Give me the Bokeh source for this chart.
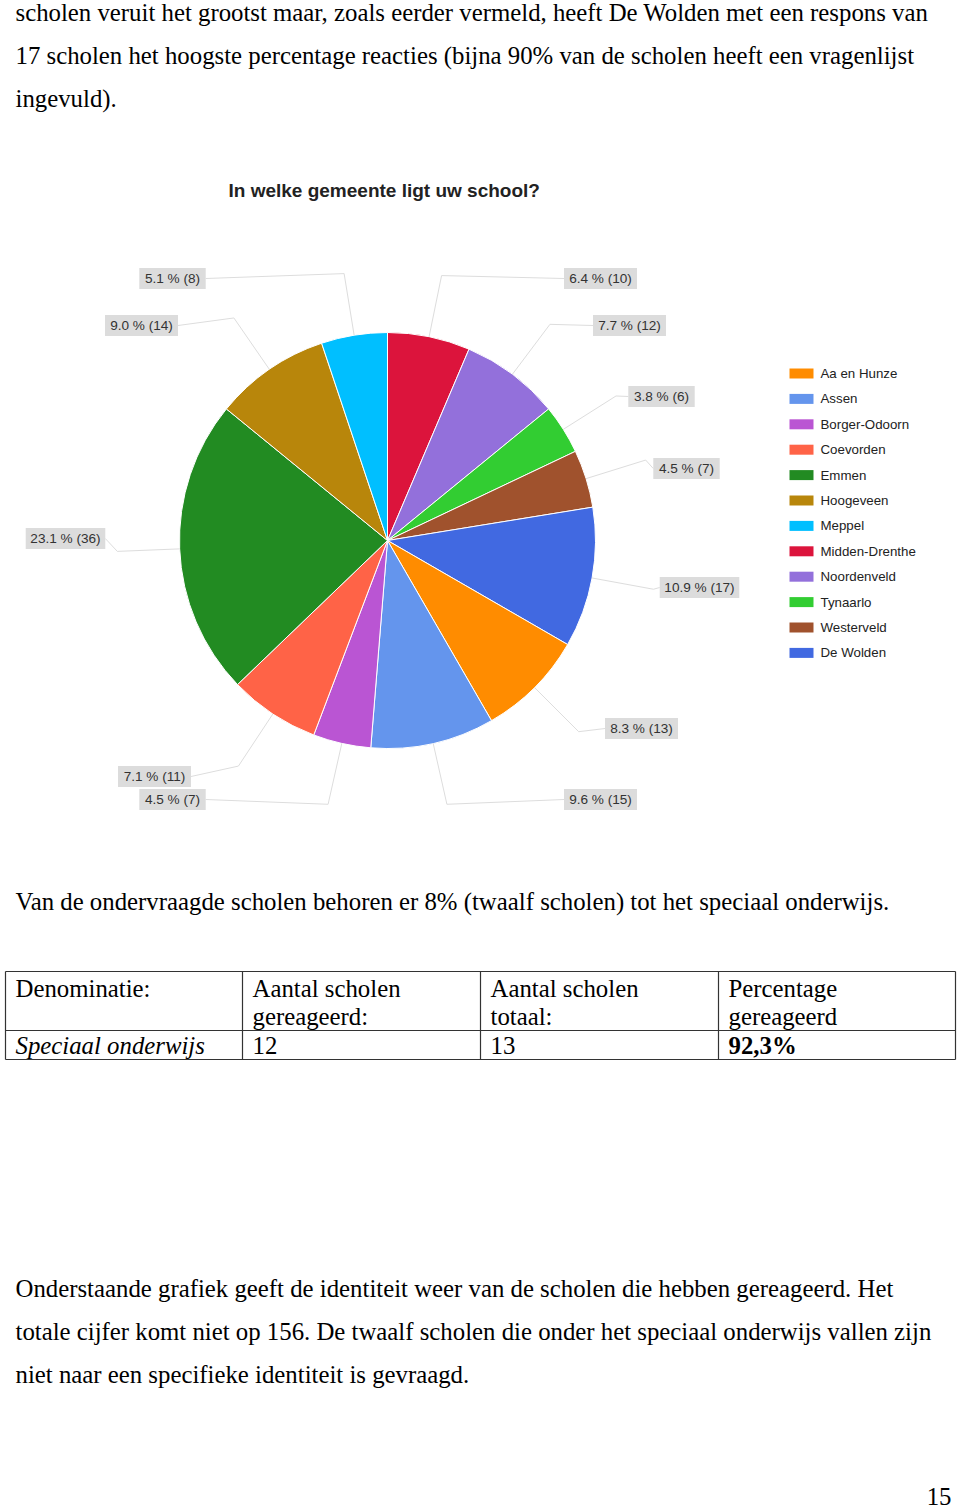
import math
from bokeh.plotting import figure
from bokeh.models import Range1d, ColumnDataSource
from bokeh.core.properties import value
from bokeh.embed import file_html
from bokeh.resources import INLINE

W, H = 960, 1511

# ---------------- data ----------------
municipalities = ["Midden-Drenthe", "Noordenveld", "Tynaarlo", "Westerveld", "De Wolden",
                  "Aa en Hunze", "Assen", "Borger-Odoorn", "Coevorden", "Emmen",
                  "Hoogeveen", "Meppel"]
counts = [10, 12, 6, 7, 17, 13, 15, 7, 11, 36, 14, 8]
legend_order = ["Aa en Hunze", "Assen", "Borger-Odoorn", "Coevorden", "Emmen", "Hoogeveen",
                "Meppel", "Midden-Drenthe", "Noordenveld", "Tynaarlo", "Westerveld", "De Wolden"]
colors = {
    "Aa en Hunze": "#FF8C00", "Assen": "#6495ED", "Borger-Odoorn": "#BA55D3",
    "Coevorden": "#FF6347", "Emmen": "#228B22", "Hoogeveen": "#B8860B",
    "Meppel": "#00BFFF", "Midden-Drenthe": "#DC143C", "Noordenveld": "#9370DB",
    "Tynaarlo": "#32CD32", "Westerveld": "#A0522D", "De Wolden": "#4169E1",
}
chart_title = "In welke gemeente ligt uw school?"

table_header_1 = ["Denominatie:", "Aantal scholen", "Aantal scholen", "Percentage"]
table_header_2 = ["", "gereageerd:", "totaal:", "gereageerd"]
table_row_label = "Speciaal onderwijs"
table_responded = 12
table_total = 13
table_pct = "92,3%"

para_top = [
    "scholen veruit het grootst maar, zoals eerder vermeld, heeft De Wolden met een respons van",
    "17 scholen het hoogste percentage reacties (bijna 90% van de scholen heeft een vragenlijst",
    "ingevuld).",
]
para_mid = ["Van de ondervraagde scholen behoren er 8% (twaalf scholen) tot het speciaal onderwijs."]
para_bottom = [
    "Onderstaande grafiek geeft de identiteit weer van de scholen die hebben gereageerd. Het",
    "totale cijfer komt niet op 156. De twaalf scholen die onder het speciaal onderwijs vallen zijn",
    "niet naar een specifieke identiteit is gevraagd.",
]
page_number = "15"

# ---------------- layout (screen px, y downwards) ----------------
CX, CY, R = 387, 540, 208
label_pos = [(600, 278), (629, 325), (661, 396), (686, 468), (699, 587), (641, 728),
             (600, 799), (172, 799), (154, 776), (65, 538), (141, 325), (172, 278)]


def sy(y):
    return H - y


p = figure(width=W, height=H, x_range=Range1d(0, W), y_range=Range1d(0, H),
           output_backend="svg", toolbar_location=None,
           x_axis_location=None, y_axis_location=None, min_border=0)
p.grid.visible = False
p.outline_line_color = None
p.background_fill_color = "white"
p.border_fill_color = "white"

SERIF = value("Liberation Serif")
SANS = value("Liberation Sans")
BODY = "24.8px"

# ---------------- pie ----------------
total = sum(counts)
starts, ends, mids = [], [], []
cum = 0
for c in counts:
    a0 = math.pi / 2 - 2 * math.pi * cum / total
    cum += c
    a1 = math.pi / 2 - 2 * math.pi * cum / total
    starts.append(a0)
    ends.append(a1)
    mids.append((a0 + a1) / 2)

pie_src = ColumnDataSource(dict(start=starts, end=ends,
                                color=[colors[m] for m in municipalities]))
p.wedge(x=CX, y=sy(CY), radius=R, start_angle="start", end_angle="end",
        direction="clock", fill_color="color", line_color="white", line_width=1,
        source=pie_src)

# labels
texts = [f"{100 * c / total:.1f} % ({c})" for c in counts]
lx = [pt[0] for pt in label_pos]
ly = [sy(pt[1]) for pt in label_pos]
bw = [6.6 * len(t) + 7 for t in texts]

xs, ys = [], []
for m, x, y, w in zip(mids, lx, ly, bw):
    ex, ey = CX + R * math.cos(m), sy(CY) + R * math.sin(m)
    bx, by = CX + 1.3 * R * math.cos(m), sy(CY) + 1.3 * R * math.sin(m)
    tx = x - w / 2 if x > CX else x + w / 2
    xs.append([ex, bx, tx])
    ys.append([ey, by, y])
p.multi_line(xs=xs, ys=ys, line_color="#dddddd", line_width=1)

p.rect(x=lx, y=ly, width=bw, height=21, fill_color="#dcdcdc", line_color=None)
p.text(x=lx, y=ly, text=texts, text_align="center", text_baseline="middle",
       text_font=SANS, text_font_size="13.6px", text_color="#333333")

# title
p.text(x=[228], y=[sy(190)], text=[chart_title], text_align="left", text_baseline="middle",
       text_font=SANS, text_font_size="19px", text_font_style="bold", text_color="#222222")

# legend
leg_y = [sy(373 + 25.4 * i) for i in range(len(legend_order))]
p.rect(x=[801] * len(legend_order), y=leg_y, width=24, height=10,
       fill_color=[colors[m] for m in legend_order], line_color=None)
p.text(x=[820] * len(legend_order), y=leg_y, text=legend_order, text_align="left",
       text_baseline="middle", text_font=SANS, text_font_size="13.3px", text_color="#222222")

# ---------------- body text ----------------
def para(lines, y0, step=43):
    p.text(x=[15] * len(lines), y=[sy(y0 + step * i) for i in range(len(lines))], text=lines,
           text_align="left", text_baseline="middle", text_font=SERIF,
           text_font_size=BODY, text_color="black")


para(para_top, 12)
para(para_mid, 901)
para(para_bottom, 1288)

p.text(x=[951], y=[sy(1496)], text=[page_number], text_align="right", text_baseline="middle",
       text_font=SERIF, text_font_size=BODY, text_color="black")

# ---------------- table ----------------
col_x = [5, 242, 480, 718, 955]
top, mid_line, bottom = 971, 1030, 1059
p.multi_line(
    xs=[[5, 955], [5, 955], [5, 955]] + [[c, c] for c in col_x],
    ys=[[sy(top), sy(top)], [sy(mid_line), sy(mid_line)], [sy(bottom), sy(bottom)]]
       + [[sy(top), sy(bottom)] for _ in col_x],
    line_color="#333333", line_width=1.2)

tx = [c + 10 for c in col_x[:4]]
p.text(x=tx, y=[sy(988)] * 4, text=table_header_1, text_align="left", text_baseline="middle",
       text_font=SERIF, text_font_size=BODY, text_color="black")
p.text(x=tx[1:], y=[sy(1016)] * 3, text=table_header_2[1:], text_align="left",
       text_baseline="middle", text_font=SERIF, text_font_size=BODY, text_color="black")
p.text(x=[tx[0]], y=[sy(1045)], text=[table_row_label], text_align="left", text_baseline="middle",
       text_font=SERIF, text_font_size=BODY, text_font_style="italic", text_color="black")
p.text(x=tx[1:3], y=[sy(1045)] * 2, text=[str(table_responded), str(table_total)],
       text_align="left", text_baseline="middle", text_font=SERIF, text_font_size=BODY,
       text_color="black")
p.text(x=[tx[3]], y=[sy(1045)], text=[table_pct], text_align="left", text_baseline="middle",
       text_font=SERIF, text_font_size=BODY, text_font_style="bold", text_color="black")

open("out.html", "w").write(file_html(p, INLINE))
